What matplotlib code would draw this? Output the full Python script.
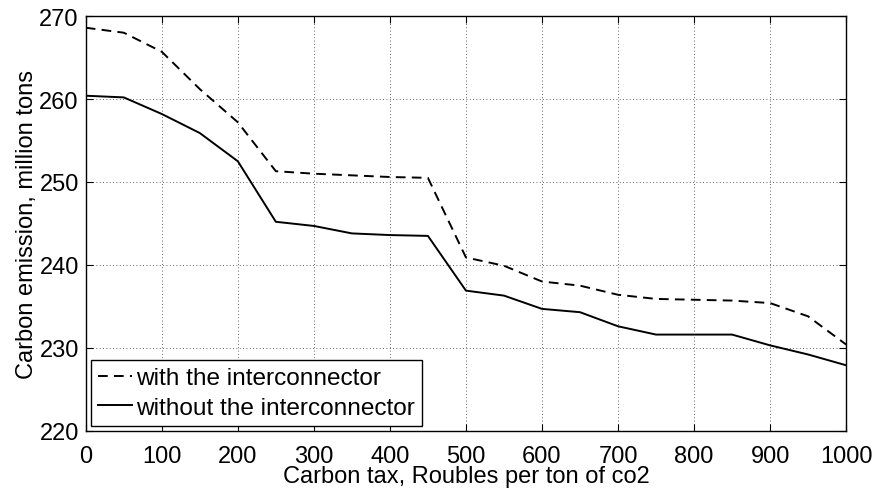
import matplotlib
matplotlib.use('Agg')
import matplotlib.pyplot as plt

# carbon tax levels, roubles per ton of CO2
tax = [0, 50, 100, 150, 200, 250, 300, 350, 400, 450, 500,
       550, 600, 650, 700, 750, 800, 850, 900, 950, 1000]

# emissions, million tons
with_ic = [268.6, 268.0, 265.7, 261.2, 257.2, 251.3, 251.0, 250.8, 250.6, 250.5, 240.9,
           239.9, 238.0, 237.5, 236.4, 235.9, 235.8, 235.7, 235.4, 233.8, 230.4]
without_ic = [260.4, 260.2, 258.2, 255.9, 252.5, 245.2, 244.7, 243.8, 243.6, 243.5, 236.9,
              236.3, 234.7, 234.3, 232.6, 231.6, 231.6, 231.6, 230.3, 229.2, 227.9]

plt.rcParams['font.family'] = ['Liberation Sans', 'DejaVu Sans']
plt.rcParams['font.size'] = 17

fig = plt.figure(figsize=(8.75, 4.89), dpi=100)
ax = fig.add_axes([0.098, 0.117, 0.869, 0.848])

ax.plot(tax, with_ic, color='black', linestyle=(0, (5, 3.2)), linewidth=1.4,
        label='with the interconnector')
ax.plot(tax, without_ic, color='black', linestyle='-', linewidth=1.4,
        label='without the interconnector')

ax.set_xlim(0, 1000)
ax.set_ylim(220, 270)
ax.set_xticks(range(0, 1001, 100))
ax.set_yticks(range(220, 271, 10))
ax.tick_params(direction='in', top=True, right=True, length=5, width=0.8)
ax.tick_params(axis='x', pad=10)
ax.tick_params(axis='y', pad=5)
ax.grid(True, color='black', linestyle=(0, (1, 3)), linewidth=0.6, alpha=0.8)
for s in ax.spines.values():
    s.set_linewidth(1.0)

ax.set_xlabel('Carbon tax, Roubles per ton of co2', labelpad=-1)
ax.set_ylabel('Carbon emission, million tons', labelpad=1)

leg = ax.legend(loc='lower left', fancybox=False, framealpha=1, edgecolor='black',
                fontsize=17.6, handlelength=1.4, handletextpad=0.15, labelspacing=0.3,
                borderpad=0.3, borderaxespad=0.2)
leg.get_frame().set_linewidth(1.0)

plt.savefig('out.png', dpi=100)
